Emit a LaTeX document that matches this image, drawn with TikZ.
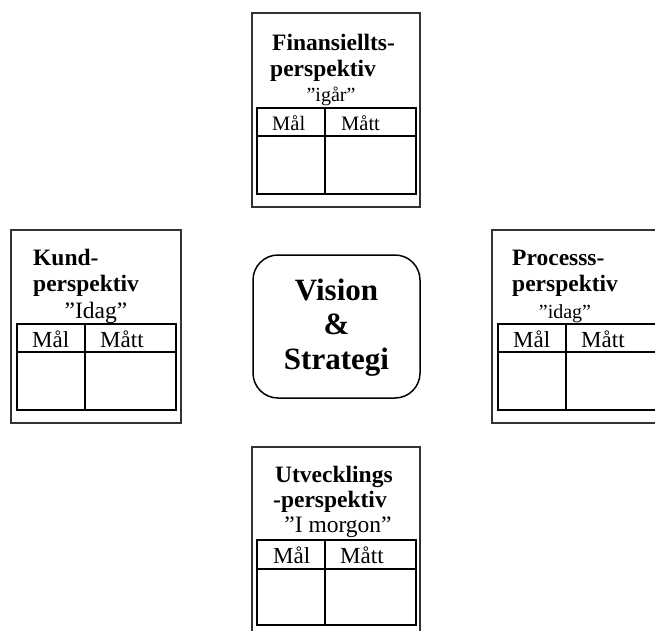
\documentclass[tikz,border=0pt]{standalone}
\usepackage{fontspec}
\setmainfont{Liberation Serif}
\begin{document}
\begin{tikzpicture}[x=1pt,y=-1pt,
  outerbox/.style={draw=black!80, line width=1.3pt, fill=white},
  tabframe/.style={draw=black, line width=2pt},
  centerbox/.style={draw=black, line width=1.5pt, rounded corners=25pt},
  titletext/.style={anchor=base west, inner sep=0pt, font=\fontsize{23.5}{26}\selectfont\bfseries},
  subtext/.style={anchor=base, inner sep=0pt, font=\fontsize{23.5}{26}\selectfont},
  smallsub/.style={subtext, font=\fontsize{20}{23}\selectfont},
  celltext/.style={anchor=base west, inner sep=0pt, font=\fontsize{23}{26}\selectfont},
  smallcell/.style={celltext, font=\fontsize{20.5}{23}\selectfont},
  visiontext/.style={anchor=base, inner sep=0pt, font=\fontsize{31}{34}\selectfont\bfseries}]
\useasboundingbox (0,0) rectangle (655,630);

% ---- Finansiellt perspektiv (top) ----
\draw[outerbox] (252,13) rectangle (420,207);
\node[titletext] (finA) at (272,50) {Finansiellts-};
\node[titletext] (finB) at (270,76) {perspektiv};
\node[smallsub] (finC) at (331,101) {”igår”};
\draw[tabframe] (257,108) rectangle (416,194);
\draw[tabframe] (257,136) -- (416,136) (325,108) -- (325,194);
\node[smallcell] (finM) at (272,130) {Mål};
\node[smallcell] (finN) at (341,130) {Mått};

% ---- Kundperspektiv (left) ----
\draw[outerbox] (11,230) rectangle (181,423);
\node[titletext] (kunA) at (33,265) {Kund-};
\node[titletext] (kunB) at (33,291) {perspektiv};
\node[subtext] (kunC) at (96,318) {”Idag”};
\draw[tabframe] (17,324) rectangle (176,410);
\draw[tabframe] (17,352) -- (176,352) (85,324) -- (85,410);
\node[celltext] (kunM) at (32,347) {Mål};
\node[celltext] (kunN) at (100,347) {Mått};

% ---- Processperspektiv (right) ----
\draw[outerbox] (492,230) rectangle (662,423);
\node[titletext] (proA) at (512,265) {Processs-};
\node[titletext] (proB) at (512,291) {perspektiv};
\node[smallsub] (proC) at (565,318) {”idag”};
\draw[tabframe] (498,324) rectangle (657,410);
\draw[tabframe] (498,352) -- (657,352) (566,324) -- (566,410);
\node[celltext] (proM) at (513,347) {Mål};
\node[celltext] (proN) at (581,347) {Mått};

% ---- Utvecklingsperspektiv (bottom) ----
\draw[outerbox] (252,447) rectangle (420,641);
\node[titletext] (utvA) at (275,482) {Utvecklings};
\node[titletext] (utvB) at (273,507) {-perspektiv};
\node[subtext] (utvC) at (338,532) {”I morgon”};
\draw[tabframe] (257,540) rectangle (416,625);
\draw[tabframe] (257,569) -- (416,569) (325,540) -- (325,625);
\node[celltext] (utvM) at (273,563) {Mål};
\node[celltext] (utvN) at (340,563) {Mått};

% ---- Vision & Strategi (centre) ----
\draw[centerbox] (253,255) rectangle (420,398);
\node[visiontext] (visA) at (336.5,300) {Vision};
\node[visiontext] (visB) at (336.5,334) {\&};
\node[visiontext] (visC) at (336.5,369) {Strategi};
\end{tikzpicture}
\end{document}
